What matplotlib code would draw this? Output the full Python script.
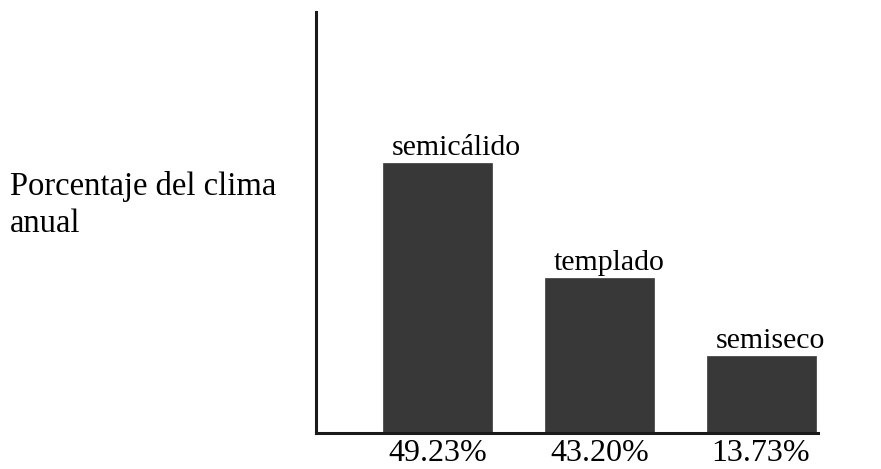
import matplotlib.pyplot as plt

plt.rcParams['font.family'] = ['Liberation Serif', 'DejaVu Serif']

# Data
climates = ["semicálido", "templado", "semiseco"]
pct_labels = ["49.23%", "43.20%", "13.73%"]
# drawn bar heights (the original is not to scale with the labels)
bar_heights = [270, 155, 77]

fig = plt.figure(figsize=(8.81, 4.69), dpi=100)
ax = fig.add_axes([316 / 881, 36 / 469, 502 / 881, 421 / 469])

x = range(len(climates))
width = 0.674
bars = ax.bar(x, bar_heights, width=width, color="#383838",
              edgecolor="#4a4a4a", linewidth=0.6)

# category names just above each bar, starting near its left edge
for b, name in zip(bars, climates):
    ax.annotate(name, (b.get_x(), b.get_height()),
                xytext=(6.5, 6), textcoords="offset points",
                ha="left", va="baseline", fontsize=21.5)

ax.set_xlim(-0.751, 2.352)
ax.set_ylim(0, 421)
ax.set_xticks(list(x))
ax.set_xticklabels(pct_labels, fontsize=23)
ax.tick_params(axis="x", length=0, pad=4)
ax.set_yticks([])

for side in ["top", "right"]:
    ax.spines[side].set_visible(False)
for side in ["left", "bottom"]:
    ax.spines[side].set_linewidth(2.2)
    ax.spines[side].set_color("#1a1a1a")

fig.text(10 / 881, 1 - 195 / 469, "Porcentaje del clima",
         ha="left", va="baseline", fontsize=23.5)
fig.text(10 / 881, 1 - 232 / 469, "anual",
         ha="left", va="baseline", fontsize=23.5)

fig.savefig("out.png", dpi=100)
